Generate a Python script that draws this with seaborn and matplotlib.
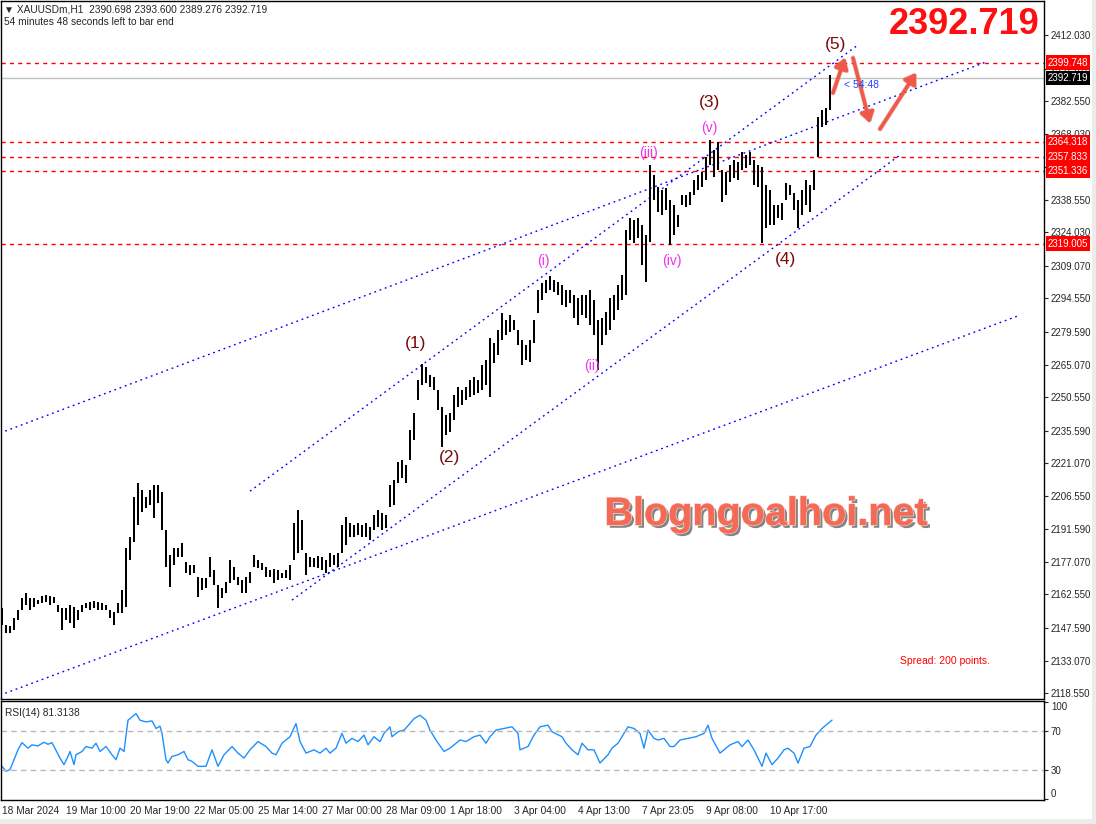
import numpy as np
import matplotlib
matplotlib.use('Agg')
import matplotlib.pyplot as plt
import matplotlib.patheffects as pe
import seaborn as sns

# H1 bars of XAUUSDm, one entry per two hourly bars (high / low)
bar_high = [2156.4, 2148.9, 2148.4, 2152.0, 2155.6, 2160.9, 2163.2, 2160.9, 2160.9, 2160.0,
            2161.8, 2162.3, 2161.8, 2161.4, 2157.8, 2156.4, 2156.4, 2157.8, 2156.9, 2155.6,
            2157.8, 2158.7, 2159.1, 2159.6, 2159.1, 2158.7, 2157.8, 2155.6, 2154.7, 2158.7,
            2164.5, 2183.2, 2188.1, 2206.0, 2212.2, 2209.1, 2206.0, 2209.1, 2211.3, 2211.3,
            2208.2, 2191.2, 2180.1, 2183.2, 2183.2, 2185.4, 2177.0, 2175.6, 2175.6, 2170.3,
            2169.8, 2169.8, 2179.2, 2173.4, 2166.7, 2165.4, 2168.0, 2177.9, 2174.8, 2170.3,
            2169.0, 2170.3, 2172.5, 2180.1, 2177.9, 2176.5, 2174.8, 2173.4, 2173.8, 2173.4,
            2172.1, 2173.4, 2175.6, 2194.4, 2200.2, 2195.7, 2181.0, 2179.2, 2178.8, 2179.6,
            2179.2, 2177.9, 2181.0, 2180.1, 2181.0, 2193.5, 2197.1, 2194.4, 2193.5, 2194.4,
            2193.5, 2194.4, 2192.6, 2197.9, 2200.2, 2198.8, 2197.9, 2211.3, 2213.5, 2221.6,
            2222.4, 2220.2, 2235.8, 2243.4, 2258.1, 2265.3, 2263.9, 2260.4, 2259.5, 2253.7,
            2246.1, 2242.5, 2243.4, 2251.5, 2255.0, 2253.7, 2255.0, 2258.1, 2259.5, 2258.1,
            2264.8, 2267.0, 2276.9, 2274.6, 2280.4, 2288.0, 2284.9, 2287.1, 2284.9, 2280.4,
            2276.0, 2273.7, 2276.0, 2284.9, 2298.3, 2301.4, 2302.7, 2304.5, 2302.7, 2301.8,
            2300.5, 2298.3, 2298.3, 2296.0, 2294.7, 2296.0, 2296.0, 2298.3, 2293.8, 2284.9,
            2285.8, 2288.4, 2294.7, 2296.0, 2300.5, 2305.0, 2325.0, 2330.4, 2329.5, 2330.4,
            2327.2, 2322.8, 2354.0, 2349.5, 2344.2, 2342.9, 2343.8, 2338.4, 2336.2, 2331.7,
            2340.6, 2340.6, 2342.0, 2347.3, 2349.5, 2350.9, 2357.6, 2365.2, 2360.7, 2364.3,
            2351.8, 2350.9, 2354.0, 2356.2, 2355.3, 2359.8, 2358.5, 2359.8, 2356.2, 2354.0,
            2353.1, 2345.1, 2342.9, 2336.2, 2336.2, 2337.1, 2346.0, 2345.1, 2341.5, 2338.4,
            2342.9, 2347.3, 2345.1, 2351.8, 2375.4, 2378.5, 2379.4, 2394.1]
bar_low = [2148.9, 2145.3, 2145.3, 2146.7, 2151.1, 2155.6, 2157.8, 2155.6, 2156.9, 2158.3,
           2158.7, 2159.1, 2157.8, 2158.7, 2154.7, 2146.7, 2151.1, 2149.8, 2147.5, 2151.1,
           2154.7, 2156.4, 2155.6, 2156.4, 2155.6, 2155.6, 2155.6, 2152.0, 2148.9, 2154.2,
           2154.2, 2156.9, 2177.9, 2185.9, 2193.5, 2199.3, 2201.1, 2202.4, 2196.6, 2203.3,
           2191.2, 2174.8, 2165.8, 2175.6, 2179.2, 2179.2, 2172.1, 2171.2, 2172.1, 2161.4,
           2164.5, 2165.4, 2170.3, 2166.7, 2156.4, 2160.9, 2163.2, 2167.6, 2169.0, 2166.7,
           2163.2, 2163.2, 2167.6, 2174.8, 2174.3, 2173.4, 2170.3, 2170.3, 2167.6, 2169.0,
           2169.8, 2169.8, 2169.0, 2177.9, 2181.0, 2182.3, 2171.2, 2174.8, 2174.8, 2174.3,
           2173.4, 2172.1, 2174.8, 2175.6, 2174.8, 2181.0, 2184.5, 2188.1, 2188.1, 2189.0,
           2188.1, 2188.1, 2186.8, 2191.2, 2192.6, 2191.2, 2192.1, 2201.5, 2202.4, 2212.2,
           2214.4, 2212.2, 2222.4, 2231.4, 2249.2, 2255.9, 2256.8, 2255.0, 2253.7, 2244.8,
           2228.3, 2233.6, 2234.9, 2240.3, 2246.1, 2247.0, 2249.2, 2250.5, 2251.5, 2252.4,
           2253.7, 2255.9, 2250.5, 2265.7, 2269.3, 2276.0, 2278.2, 2279.5, 2280.4, 2273.7,
           2264.8, 2267.0, 2266.1, 2274.6, 2288.0, 2293.8, 2296.9, 2298.3, 2297.4, 2296.0,
           2291.6, 2290.7, 2292.5, 2285.8, 2282.6, 2287.1, 2285.8, 2282.6, 2278.2, 2262.6,
           2273.7, 2278.2, 2280.4, 2284.9, 2289.3, 2293.8, 2296.0, 2320.6, 2319.2, 2321.5,
           2309.4, 2301.8, 2319.7, 2338.4, 2333.0, 2331.7, 2334.0, 2318.3, 2322.8, 2326.4,
           2336.2, 2335.3, 2336.2, 2340.6, 2342.9, 2344.2, 2347.3, 2354.0, 2348.7, 2351.8,
           2337.5, 2340.6, 2346.4, 2348.2, 2347.3, 2351.8, 2352.7, 2354.0, 2345.1, 2344.2,
           2319.2, 2325.9, 2327.2, 2327.2, 2330.4, 2329.5, 2338.4, 2340.6, 2334.0, 2325.9,
           2331.7, 2336.2, 2333.0, 2342.9, 2357.6, 2371.0, 2371.8, 2378.5]

# RSI(14) (bar number, value)
rsi_bar = [0, 2, 4, 6, 8, 10, 13, 15, 18, 21, 23, 25, 26, 29, 31, 33, 34, 36, 37, 40,
           42, 45, 47, 49, 52, 55, 57, 59, 61, 63, 67, 69, 72, 75, 77, 79, 80, 82, 83, 85,
           88, 91, 93, 95, 98, 102, 105, 108, 111, 115, 118, 121, 124, 128, 132, 135, 137, 140, 144, 147,
           149, 152, 156, 159, 162, 164, 167, 170, 172, 175, 178, 181, 183, 186, 189, 191, 194, 195, 198, 201,
           204, 206, 209, 212, 214, 217, 221, 224, 227, 229, 232, 236, 239, 242, 244, 247, 251, 255, 258, 259,
           263, 266, 269, 273, 275, 280, 282, 285, 288, 290, 293, 296, 299, 303, 305, 308, 311, 313, 316, 319,
           321, 323, 326, 328, 331, 334, 336, 339, 343, 347, 351, 353, 355, 359, 364, 368, 370, 373, 376, 380,
           382, 385, 388, 391, 393, 396, 398, 401, 404, 407, 410, 412, 415]
rsi_val = [33.7, 28.6, 30.3, 40.5, 50.7, 58.1, 52.4, 55.8, 54.7, 58.5, 56.4, 58.1, 54.1, 42.2, 35.4, 43.9, 49.0, 35.4, 45.6, 49.0,
           54.1, 52.4, 57.5, 49.0, 54.1, 45.6, 40.5, 52.4, 49.0, 81.2, 88.0, 81.2, 79.5, 80.5, 72.7, 75.1, 67.6, 40.5, 37.1, 43.9,
           45.6, 49.0, 40.5, 38.8, 33.7, 33.7, 50.7, 33.7, 45.6, 54.1, 47.3, 42.2, 50.7, 59.2, 54.1, 47.3, 45.6, 57.5, 64.2, 77.8,
           59.2, 47.3, 50.7, 47.3, 52.4, 47.3, 52.4, 67.6, 57.5, 62.5, 59.2, 65.9, 55.8, 64.2, 59.2, 67.6, 74.4, 64.2, 69.3, 71.0,
           77.8, 82.9, 86.3, 81.2, 71.0, 60.8, 49.0, 52.4, 57.5, 60.8, 59.2, 64.2, 65.9, 57.5, 64.2, 71.0, 72.7, 74.4, 67.6, 50.7,
           54.1, 65.9, 74.4, 76.1, 69.3, 64.2, 57.5, 50.7, 45.6, 57.5, 50.7, 50.7, 37.1, 45.6, 52.4, 57.5, 67.6, 74.4, 72.7, 67.6,
           52.4, 71.0, 62.5, 60.8, 62.5, 54.1, 54.1, 60.8, 62.5, 64.2, 67.6, 76.1, 62.5, 47.3, 55.8, 59.2, 54.1, 60.8, 50.7, 33.7,
           47.3, 35.4, 42.2, 50.7, 52.4, 47.3, 37.1, 52.4, 54.1, 65.9, 72.7, 76.1, 81.3]

date_ticks = [0, 32, 64, 96, 128, 160, 192, 224, 256, 288, 320, 352, 384]
date_labels = ['18 Mar 2024', '19 Mar 10:00', '20 Mar 19:00', '22 Mar 05:00', '25 Mar 14:00',
               '27 Mar 00:00', '28 Mar 09:00', '1 Apr 18:00', '3 Apr 04:00', '4 Apr 13:00',
               '7 Apr 23:05', '9 Apr 08:00', '10 Apr 17:00']
price_ticks = [2412.030, 2397.070, 2382.550, 2368.030, 2353.070, 2338.550, 2324.030, 2309.070,
               2294.550, 2279.590, 2265.070, 2250.550, 2235.590, 2221.070, 2206.550, 2191.590,
               2177.070, 2162.550, 2147.590, 2133.070, 2118.550]

last_price = 2392.719
red_levels = [2399.748, 2364.318, 2357.833, 2351.336, 2319.005]

# analyst trend lines: (bar, price) -> (bar, price)
trend_lines = [(-1, 2234.5, 492, 2400.0),
               (-1, 2117.6, 509, 2287.1),
               (124, 2208.6, 428, 2407.6),
               (145, 2160.0, 449, 2358.5)]

wave_labels = ['(1)', '(2)', '(3)', '(4)', '(5)']
wave_bar = [207, 224, 353.5, 391.5, 417]
wave_price = [2274.6, 2223.4, 2382.1, 2311.7, 2408.0]
sub_labels = ['(i)', '(ii)', '(iii)', '(iv)', '(v)']
sub_bar = [270.5, 295, 323, 335, 353.5]
sub_price = [2311.2, 2264.4, 2359.4, 2311.2, 2370.5]

# projected path arrows (start bar, start price, end bar, end price)
arrows = [(415.5, 2386.2, 421.5, 2401.8),
          (425.5, 2401.8, 434, 2372.8),
          (439, 2370.1, 457, 2395.1)]

sns.set_style('white')
plt.rcParams['font.family'] = ['Liberation Sans', 'DejaVu Sans']

W, H = 1096, 824
fig = plt.figure(figsize=(W / 100, H / 100), dpi=100)
ax = fig.add_axes([1 / W, 1 - 699 / H, 1043 / W, 698 / H])
ax2 = fig.add_axes([1 / W, 1 - 800 / H, 1043 / W, 99 / H])

# window chrome strips
fig.patches.append(plt.Rectangle((1092 / W, 0), 4 / W, 1, transform=fig.transFigure, fc='#ececec', ec='none'))
fig.patches.append(plt.Rectangle((0, 0), 1, 5 / H, transform=fig.transFigure, fc='#ececec', ec='none'))

# price bars
bars_x = np.arange(len(bar_high)) * 2
ax.vlines(bars_x, bar_low, bar_high, color='black', lw=1.45, zorder=3)

# levels
for lv in red_levels:
    ax.axhline(lv, color='red', lw=1, ls=(0, (3, 3)), zorder=2)
ax.axhline(last_price, color='#c0c0c0', lw=1, zorder=1)

for x0, y0, x1, y1 in trend_lines:
    ax.plot([x0, x1], [y0, y1], color='blue', lw=1, ls=(0, (1.3, 2.7)), zorder=2)

for t, xb, yp in zip(wave_labels, wave_bar, wave_price):
    ax.text(xb, yp, t, color='#7a0a0a', fontsize=12.5, ha='center', va='center', zorder=5)
for t, xb, yp in zip(sub_labels, sub_bar, sub_price):
    ax.text(xb, yp, t, color='#ee30ee', fontsize=10, ha='center', va='center', zorder=5)

for x0, y0, x1, y1 in arrows:
    ax.annotate('', xy=(x1, y1), xytext=(x0, y0),
                arrowprops=dict(arrowstyle='-|>,head_length=0.6,head_width=0.4', color='#f0584a',
                                lw=2.6, shrinkA=0, shrinkB=0,
                                path_effects=[pe.withStroke(linewidth=3.6, foreground='#b04a40', alpha=0.3)]),
                zorder=6)

ax.text(421, last_price - 3.0, '< 54:48', color='#2040ff', fontsize=7.5, ha='left', va='center', zorder=7)

ax.set_xlim(-0.5, 521)
ax.set_ylim(2115.9, 2427.2)
ax.yaxis.tick_right()
ax.set_yticks(price_ticks)
ax.set_yticklabels([f'{p:.3f}' for p in price_ticks])
ax.tick_params(axis='y', labelsize=7, length=3, direction='out', pad=2, width=0.8)
ax.set_xticks([])

ytr = ax.get_yaxis_transform()
for lv in red_levels:
    ax.text(1.0035, lv, f'{lv:.3f}', transform=ytr, color='white', fontsize=7, ha='left', va='center',
            bbox=dict(boxstyle='square,pad=0.22', fc='red', ec='none'), clip_on=False, zorder=10)
ax.text(1.0035, last_price, f'{last_price:.3f}', transform=ytr, color='white', fontsize=7, ha='left',
        va='center', bbox=dict(boxstyle='square,pad=0.22', fc='black', ec='none'), clip_on=False, zorder=10)

# RSI panel
sns.lineplot(x=rsi_bar, y=rsi_val, ax=ax2, color='#1e90ff', lw=1)
for lv in (70, 30):
    ax2.axhline(lv, color='#b8b8b8', lw=1, ls=(0, (4, 3)))
ax2.set_xlim(-0.5, 521)
ax2.set_ylim(-1, 101)
ax2.yaxis.tick_right()
ax2.set_yticks([100, 70, 30, 0])
ax2.set_yticklabels(['100', '70', '30', '0'])
ax2.tick_params(axis='y', labelsize=7, length=3, direction='out', pad=2, width=0.8)
ylabs = ax2.get_yticklabels()
ylabs[0].set_va('top')
ylabs[-1].set_va('bottom')
ax2.set_xticks(date_ticks)
ax2.set_xticklabels(date_labels, ha='left')
ax2.tick_params(axis='x', labelsize=7.3, length=3, direction='out', pad=1, width=0.8)
ax2.set_ylabel('')
ax2.text(0.004, 0.93, 'RSI(14) 81.3138', transform=ax2.transAxes, fontsize=7.3, va='top', ha='left')

for a in (ax, ax2):
    for s in a.spines.values():
        s.set_color('black')
        s.set_linewidth(1)

# header and overlay texts
fig.text(4 / W, 1 - 9 / H, '\u25bc XAUUSDm,H1  2390.698 2393.600 2389.276 2392.719', fontsize=7.3, va='center')
fig.text(4 / W, 1 - 22 / H, '54 minutes 48 seconds left to bar end', fontsize=7.3, va='center')
fig.text(1040 / W, 1 - 25 / H, '2392.719', color='#ff1010', fontsize=26, fontweight='bold',
         ha='right', va='center')
fig.text(766 / W, 1 - 514 / H, 'Blogngoalhoi.net', color='#f36a56', fontsize=28.5, fontweight='bold',
         ha='center', va='center',
         path_effects=[pe.withSimplePatchShadow(offset=(2, -2), shadow_rgbFace='#505050', alpha=0.7),
                       pe.withStroke(linewidth=1.2, foreground='#fbd0c8'), pe.Normal()])
fig.text(900 / W, 1 - 661 / H, 'Spread: 200 points.', color='red', fontsize=7.5, ha='left', va='center')

fig.savefig('out.png', dpi=100)
